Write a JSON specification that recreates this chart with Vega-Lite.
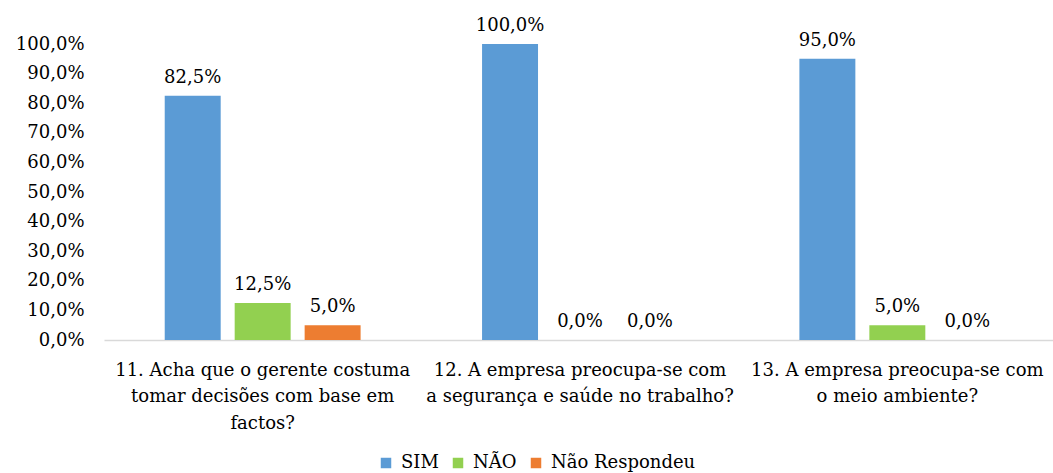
{
  "$schema": "https://vega.github.io/schema/vega-lite/v6.json",
  "autosize": "none",
  "padding": {"left": 104, "top": 44, "right": 0, "bottom": 133},
  "width": 952,
  "height": 296,
  "background": "white",
  "config": {
    "locale": {"number": {"decimal": ",", "thousands": ".", "grouping": [3], "currency": ["", " €"]}},
    "view": {"stroke": null},
    "font": "DejaVu Serif"
  },
  "data": {
    "values": [
      {"pergunta": "11. Acha que o gerente costuma|tomar decisões com base em|factos?", "resposta": "SIM", "valor": 0.825},
      {"pergunta": "11. Acha que o gerente costuma|tomar decisões com base em|factos?", "resposta": "NÃO", "valor": 0.125},
      {"pergunta": "11. Acha que o gerente costuma|tomar decisões com base em|factos?", "resposta": "Não Respondeu", "valor": 0.05},
      {"pergunta": "12. A empresa preocupa-se com|a segurança e saúde no trabalho?", "resposta": "SIM", "valor": 1.0},
      {"pergunta": "12. A empresa preocupa-se com|a segurança e saúde no trabalho?", "resposta": "NÃO", "valor": 0.0},
      {"pergunta": "12. A empresa preocupa-se com|a segurança e saúde no trabalho?", "resposta": "Não Respondeu", "valor": 0.0},
      {"pergunta": "13. A empresa preocupa-se com|o meio ambiente?", "resposta": "SIM", "valor": 0.95},
      {"pergunta": "13. A empresa preocupa-se com|o meio ambiente?", "resposta": "NÃO", "valor": 0.05},
      {"pergunta": "13. A empresa preocupa-se com|o meio ambiente?", "resposta": "Não Respondeu", "valor": 0.0}
    ]
  },
  "encoding": {
    "x": {
      "field": "pergunta",
      "type": "nominal",
      "sort": null,
      "scale": {"paddingInner": 0, "paddingOuter": 0},
      "axis": {
        "title": null,
        "labelAngle": 0,
        "labelExpr": "split(datum.label, '|')",
        "labelFont": "DejaVu Serif",
        "labelFontSize": 18,
        "labelColor": "#000000",
        "labelLineHeight": 26.5,
        "labelPadding": 21,
        "labelLimit": 0,
        "labelOverlap": false,
        "labelBound": false,
        "ticks": false,
        "domainColor": "#d9d9d9",
        "domainWidth": 1.5
      }
    },
    "xOffset": {
      "field": "resposta",
      "type": "nominal",
      "sort": ["SIM", "NÃO", "Não Respondeu"],
      "scale": {"paddingInner": 0.2, "paddingOuter": 0.868}
    },
    "y": {
      "field": "valor",
      "type": "quantitative",
      "scale": {"domain": [0, 1], "nice": false},
      "axis": {
        "title": null,
        "format": ".1%",
        "values": [0, 0.1, 0.2, 0.3, 0.4, 0.5, 0.6, 0.7, 0.8, 0.9, 1.0],
        "grid": false,
        "domain": false,
        "ticks": false,
        "labelFont": "DejaVu Serif",
        "labelFontSize": 18,
        "labelColor": "#000000",
        "labelPadding": 20
      }
    }
  },
  "layer": [
    {
      "mark": {"type": "bar"},
      "encoding": {
        "color": {
          "field": "resposta",
          "type": "nominal",
          "scale": {"domain": ["SIM", "NÃO", "Não Respondeu"], "range": ["#5B9BD5", "#92D050", "#ED7D31"]},
          "legend": {
            "title": null,
            "orient": "none",
            "direction": "horizontal",
            "legendX": 273,
            "legendY": 410,
            "symbolType": "square",
            "symbolSize": 110,
            "symbolStrokeWidth": 0,
            "symbolOpacity": 1,
            "labelFont": "DejaVu Serif",
            "labelFontSize": 18,
            "labelColor": "#000000",
            "labelOffset": 6,
            "columnPadding": 10
          }
        }
      }
    },
    {
      "mark": {"type": "text", "baseline": "alphabetic", "dy": -13, "font": "DejaVu Serif", "fontSize": 18, "color": "#000000"},
      "encoding": {
        "text": {"field": "valor", "type": "quantitative", "format": ".1%"}
      }
    }
  ]
}
